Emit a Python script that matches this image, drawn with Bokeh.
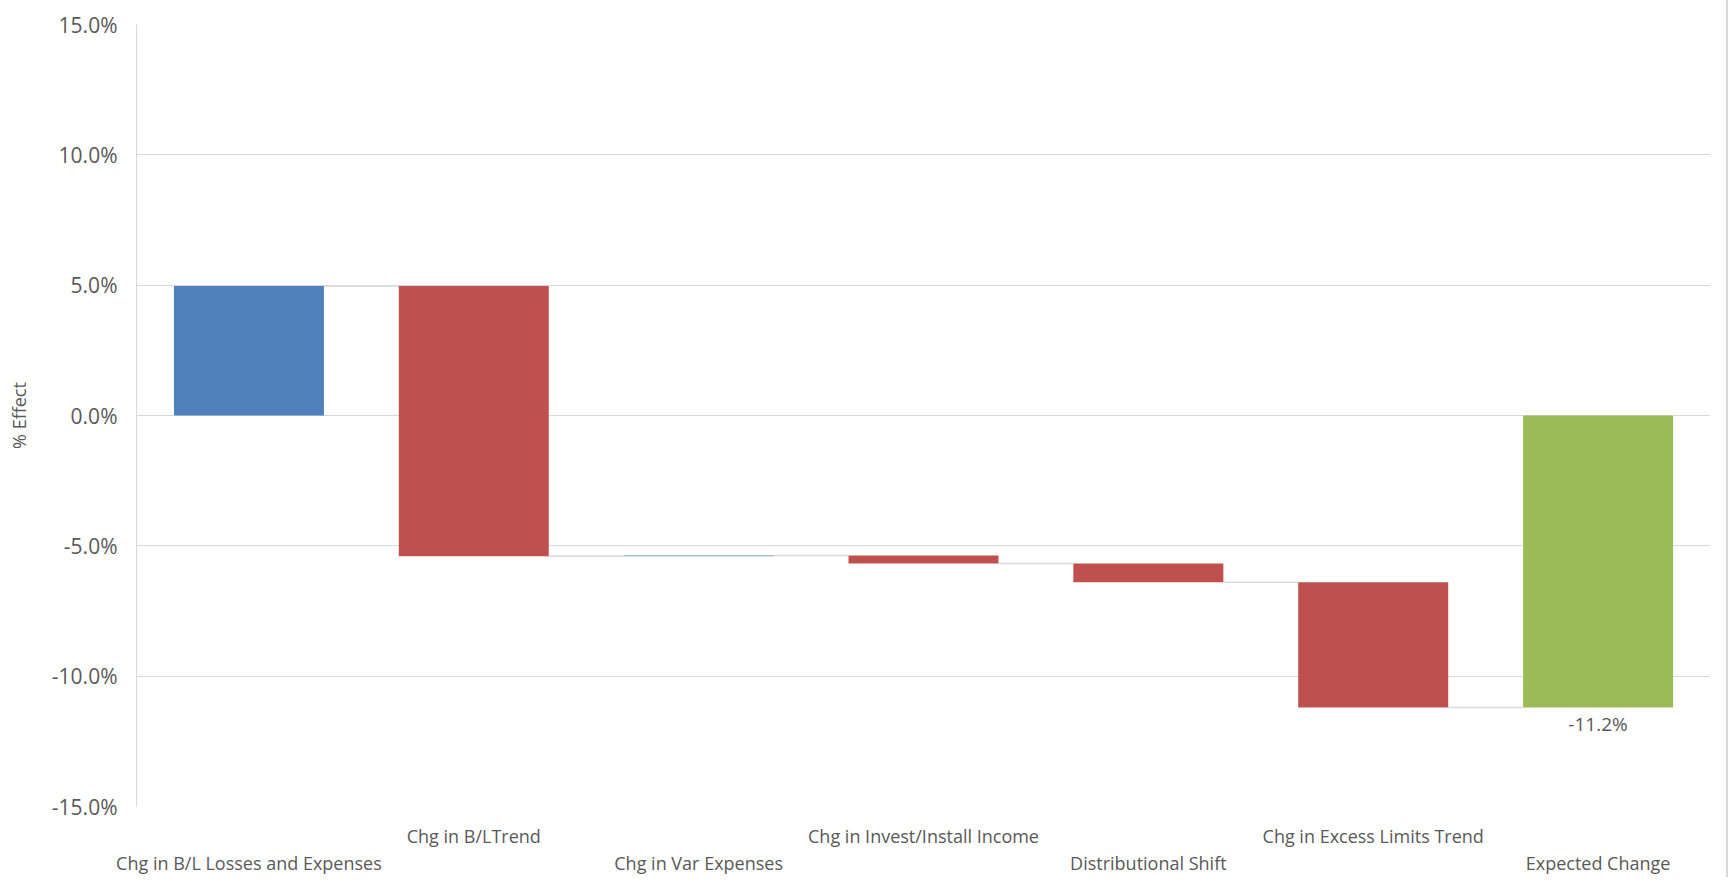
from bokeh.plotting import figure
from bokeh.models import Range1d, FixedTicker, PrintfTickFormatter, LinearAxis, ColumnDataSource
from bokeh.embed import file_html
from bokeh.resources import INLINE
from bokeh.core.properties import value

# ---- data (percent) ----
categories = ["Chg in B/L Losses and Expenses", "Chg in B/LTrend", "Chg in Var Expenses",
              "Chg in Invest/Install Income", "Distributional Shift",
              "Chg in Excess Limits Trend", "Expected Change"]
effects = [4.97, -10.37, 0.03, -0.31, -0.72, -4.80]
y_ticks = [-15, -10, -5, 0, 5, 10, 15]
y_title = "% Effect"

BLUE, RED, GREEN = "#4F81BD", "#C0504D", "#9BBB59"
TXT = "#595959"
GRID = "#D9D9D9"
FONT = "Open Sans"

# ---- waterfall geometry from the data ----
xs, bottoms, tops, colors = [], [], [], []
cum = 0.0
levels = []
for i, e in enumerate(effects):
    start, end = cum, cum + e
    xs.append(i)
    bottoms.append(min(start, end))
    tops.append(max(start, end))
    colors.append(BLUE if e >= 0 else RED)
    cum = end
    levels.append(cum)
total = cum
xs.append(len(effects))
bottoms.append(min(0, total))
tops.append(max(0, total))
colors.append(GREEN)

bar_w = 0.667
bars = ColumnDataSource(dict(x=xs, bottom=bottoms, top=tops, color=colors))

p = figure(frame_width=1574, frame_height=782,
           x_range=Range1d(-0.5, len(categories) - 0.5),
           y_range=Range1d(-15, 15), output_backend="svg", toolbar_location=None,
           x_axis_location=None, min_border_left=136, min_border_top=24,
           min_border_bottom=70, min_border_right=16)
p.outline_line_color = None
p.background_fill_color = "white"
p.styles = {"border-right": "2px solid #D9D9D9"}

# y axis
p.yaxis.ticker = FixedTicker(ticks=y_ticks)
p.yaxis.formatter = PrintfTickFormatter(format="%.1f%%")
p.yaxis.axis_line_color = GRID
p.yaxis.major_tick_line_color = None
p.yaxis.major_tick_out = 0
p.yaxis.major_tick_in = 0
p.yaxis.minor_tick_line_color = None
p.yaxis.major_label_text_font = FONT
p.yaxis.major_label_text_font_size = "21px"
p.yaxis.major_label_text_color = TXT
p.yaxis.major_label_standoff = 19
p.yaxis.axis_label = y_title
p.yaxis.axis_label_text_font = FONT
p.yaxis.axis_label_text_font_size = "18px"
p.yaxis.axis_label_text_font_style = "normal"
p.yaxis.axis_label_text_color = TXT
p.yaxis.axis_label_standoff = 18

p.ygrid.ticker = FixedTicker(ticks=y_ticks)
p.ygrid.grid_line_color = GRID
p.ygrid.grid_line_width = 1
p.xgrid.grid_line_color = None

# staggered category axes
upper = [i for i in range(len(categories)) if i % 2 == 1]
lower = [i for i in range(len(categories)) if i % 2 == 0]
for ticks, standoff in ((upper, 17), (lower, 0)):
    ax = LinearAxis(ticker=FixedTicker(ticks=ticks),
                    major_label_overrides={t: categories[t] for t in ticks})
    ax.axis_line_color = None
    ax.major_tick_line_color = None
    ax.major_tick_out = 0
    ax.major_tick_in = 0
    ax.minor_tick_line_color = None
    ax.major_label_text_font = FONT
    ax.major_label_text_font_size = "18px"
    ax.major_label_text_color = TXT
    ax.major_label_standoff = standoff
    p.add_layout(ax, "below")

# connectors
p.segment(x0=[i + bar_w / 2 for i in range(len(levels))],
          x1=[i + 1 - bar_w / 2 for i in range(len(levels))],
          y0=levels, y1=levels, line_color=GRID, line_width=1.5)

p.vbar(x="x", bottom="bottom", top="top", width=bar_w, fill_color="color",
       line_color=None, source=bars)

# data label for total
p.text(x=[len(effects)], y=[total], text=[f"{total:.1f}%"], y_offset=4,
       text_align="center", text_baseline="top", text_font=value(FONT),
       text_font_size="19px", text_color=TXT)

open("out.html", "w").write(file_html(p, INLINE))
